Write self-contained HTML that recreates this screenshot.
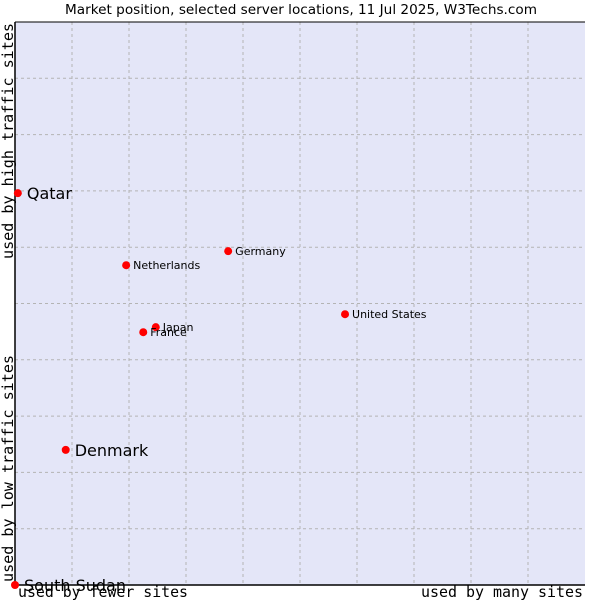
<!DOCTYPE html>
<html><head><meta charset="utf-8"><style>
body{margin:0;background:#fff;}
svg{display:block;font-family:"DejaVu Sans","Liberation Sans",sans-serif;}
</style></head><body>
<svg id="chart" width="600" height="600">
<text x="65" y="14" textLength="472" lengthAdjust="spacingAndGlyphs" font-size="13" fill="#000">Market position, selected server locations, 11 Jul 2025, W3Techs.com</text>
<rect x="15" y="22" width="570" height="563" fill="#e4e6f8"/>
<g id="grid"></g>
<line x1="15" y1="22" x2="15" y2="585" stroke="#000" stroke-width="1.5"/>
<line x1="15" y1="585" x2="585" y2="585" stroke="#000" stroke-width="1.5"/>
<line x1="15" y1="22" x2="585" y2="22" stroke="#000" stroke-width="1"/>
<g id="points"></g>
<text x="18" y="597" textLength="170" lengthAdjust="spacingAndGlyphs" font-family="DejaVu Sans Mono, Liberation Mono, monospace" font-size="15">used by fewer sites</text>
<text x="421" y="597" textLength="162" lengthAdjust="spacingAndGlyphs" font-family="DejaVu Sans Mono, Liberation Mono, monospace" font-size="15">used by many sites</text>
<text transform="translate(13,582) rotate(-90)" textLength="227" lengthAdjust="spacingAndGlyphs" font-family="DejaVu Sans Mono, Liberation Mono, monospace" font-size="15">used by low traffic sites</text>
<text transform="translate(13,259) rotate(-90)" textLength="236" lengthAdjust="spacingAndGlyphs" font-family="DejaVu Sans Mono, Liberation Mono, monospace" font-size="15">used by high traffic sites</text>
</svg>
<script>
const countries=["Qatar","Netherlands","Germany","United States","Japan","France","Denmark","South Sudan"];
const xValues=[0.5,19.5,37.4,57.9,24.7,22.5,8.9,0];
const yValues=[69.6,56.8,59.3,48.1,45.8,44.9,24.0,0];
const bigLabels=[true,false,false,false,false,false,true,true];
const X0=15,X1=585,Y0=585,Y1=22;
function sx(v){return X0+(X1-X0)*v/100;}
function sy(v){return Y0-(Y0-Y1)*v/100;}
const NS="http://www.w3.org/2000/svg";
const grid=document.getElementById('grid');
for(let i=1;i<10;i++){
  const v=document.createElementNS(NS,'line');
  v.setAttribute('x1',sx(i*10));v.setAttribute('x2',sx(i*10));v.setAttribute('y1',Y1);v.setAttribute('y2',Y0);
  v.setAttribute('stroke','#b4b4b4');v.setAttribute('stroke-dasharray','3,3');
  
  
  grid.appendChild(v);
  const h=document.createElementNS(NS,'line');
  h.setAttribute('y1',sy(i*10));h.setAttribute('y2',sy(i*10));h.setAttribute('x1',X0);h.setAttribute('x2',X1);
  h.setAttribute('stroke','#b4b4b4');h.setAttribute('stroke-dasharray','3,3');
  
  
  grid.appendChild(h);
}
const pts=document.getElementById('points');
countries.forEach((c,i)=>{
  const x=sx(xValues[i]),y=sy(yValues[i]);
  const d=document.createElementNS(NS,'circle');
  d.setAttribute('cx',x);d.setAttribute('cy',y);d.setAttribute('r',4);d.setAttribute('fill','#f00');
  
  
  pts.appendChild(d);
  const t=document.createElementNS(NS,'text');
  t.setAttribute('x',x+(bigLabels[i]?9:7));
  t.setAttribute('y',y+(bigLabels[i]?6:4));
  t.setAttribute('font-size',bigLabels[i]?16:11);
  t.textContent=c;
  
  
  pts.appendChild(t);
});
</script>
</body></html>
